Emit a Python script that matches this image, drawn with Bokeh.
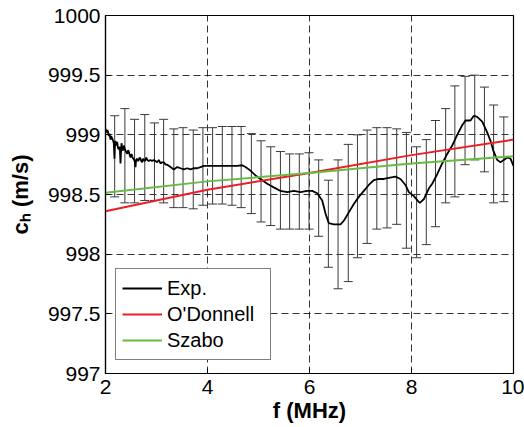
import math
from bokeh.plotting import figure
from bokeh.models import (Range1d, FixedTicker, Legend, LegendItem,
                          Whisker, ColumnDataSource, TeeHead)
from bokeh.embed import file_html
from bokeh.resources import INLINE

# ---------------- data ----------------
x_ticks = [2, 4, 6, 8, 10]
x_tick_labels = ["2", "4", "6", "8", "10"]
y_ticks = [997, 997.5, 998, 998.5, 999, 999.5, 1000]
y_tick_labels = ["997", "997.5", "998", "998.5", "999", "999.5", "1000"]
x_title = "f (MHz)"
y_title = "c\u2095 (m/s)"

exp_f = [2.00, 2.02, 2.04, 2.065, 2.08, 2.098, 2.11, 2.131, 2.15, 2.163,
         2.176, 2.185, 2.196, 2.21, 2.229, 2.245, 2.261, 2.28, 2.294, 2.305,
         2.314, 2.33, 2.347, 2.36, 2.373, 2.40, 2.425, 2.44, 2.457, 2.475,
         2.49, 2.51, 2.524, 2.54, 2.555, 2.575, 2.588, 2.60, 2.622, 2.64,
         2.653, 2.67, 2.686, 2.70, 2.72, 2.735, 2.751, 2.77, 2.784, 2.80,
         2.818, 2.85, 2.882, 2.91, 2.947, 2.98, 3.014, 3.045, 3.078, 3.11,
         3.143, 3.18, 3.21, 3.275, 3.339, 3.406, 3.471, 3.535, 3.602, 3.667,
         3.731, 3.798, 3.863, 3.93, 3.994, 4.059, 4.15, 4.255, 4.35, 4.451,
         4.582, 4.68, 4.745, 4.843, 4.941, 5.039, 5.171, 5.30, 5.431, 5.563,
         5.692, 5.824, 5.955, 6.053, 6.151, 6.249, 6.314, 6.378, 6.476, 6.608,
         6.673, 6.771, 6.869, 6.967, 7.065, 7.163, 7.261, 7.359, 7.457, 7.555,
         7.686, 7.784, 7.882, 7.947, 8.039, 8.137, 8.163, 8.241, 8.339, 8.406,
         8.504, 8.602, 8.70, 8.798, 8.896, 8.994, 9.059, 9.157, 9.222, 9.288,
         9.386, 9.484, 9.549, 9.602, 9.68, 9.745, 9.81, 9.876, 9.941, 10.0]
exp_c = [999.05, 999.02, 999.04, 998.99, 999.01, 998.96, 998.99, 998.97, 998.95, 998.93,
         998.80, 998.92, 998.95, 998.91, 998.94, 998.89, 998.88, 998.90, 998.76, 998.86,
         998.93, 998.88, 998.87, 998.91, 998.89, 998.86, 998.84, 998.87, 998.86, 998.83,
         998.81, 998.84, 998.82, 998.80, 998.80, 998.77, 998.73, 998.79, 998.80, 998.78,
         998.79, 998.81, 998.80, 998.78, 998.77, 998.80, 998.79, 998.78, 998.79, 998.81,
         998.79, 998.78, 998.79, 998.78, 998.79, 998.78, 998.77, 998.79, 998.76, 998.77,
         998.77, 998.75, 998.75, 998.73, 998.71, 998.73, 998.72, 998.71, 998.72, 998.71,
         998.72, 998.72, 998.73, 998.74, 998.74, 998.74, 998.74, 998.74, 998.74, 998.74,
         998.74, 998.745, 998.73, 998.70, 998.66, 998.63, 998.59, 998.56, 998.53, 998.52,
         998.53, 998.52, 998.53, 998.53, 998.51, 998.45, 998.34, 998.26, 998.25, 998.25,
         998.28, 998.35, 998.42, 998.48, 998.53, 998.58, 998.62, 998.63, 998.63, 998.64,
         998.65, 998.63, 998.58, 998.52, 998.49, 998.44, 998.43, 998.46, 998.55, 998.59,
         998.67, 998.76, 998.84, 998.91, 999.00, 999.08, 999.12, 999.12, 999.16, 999.15,
         999.11, 999.02, 998.95, 998.87, 998.79, 998.77, 998.79, 998.81, 998.80, 998.74]

err_f = [2.18, 2.38, 2.57, 2.77, 2.96, 3.14, 3.34, 3.52, 3.72, 3.91,
         4.10, 4.29, 4.48, 4.66, 4.86, 5.05, 5.24, 5.43, 5.61, 5.80,
         5.99, 6.18, 6.37, 6.56, 6.76, 6.94, 7.13, 7.32, 7.52, 7.71,
         7.90, 8.10, 8.29, 8.47, 8.67, 8.85, 9.05, 9.24, 9.43, 9.61, 9.81]
err_hi = [999.16, 999.22, 999.13, 999.17, 999.10, 999.13, 999.05, 999.06, 999.04, 999.06,
          999.06, 999.07, 999.07, 999.07, 999.01, 998.95, 998.90, 998.86, 998.84, 998.84,
          998.85, 998.79, 998.62, 998.79, 998.92, 999.00, 999.04, 999.06, 999.06, 999.05,
          999.02, 998.90, 998.96, 999.12, 999.22, 999.41, 999.49, 999.50, 999.40, 999.25, 999.15]
err_lo = [998.48, 998.43, 998.43, 998.45, 998.45, 998.43, 998.39, 998.39, 998.38, 998.41,
          998.42, 998.42, 998.41, 998.39, 998.34, 998.27, 998.24, 998.21, 998.21, 998.21,
          998.21, 998.15, 997.89, 997.71, 997.77, 997.97, 998.09, 998.21, 998.22, 998.25,
          998.05, 997.97, 998.08, 998.23, 998.43, 998.48, 998.75, 998.79, 998.69, 998.43, 998.44]

model_f = [2, 4, 6, 8, 10]
odonnell_c = [998.36, 998.54, 998.68, 998.83, 998.96]
szabo_c = [998.515, 998.61, 998.68, 998.76, 998.82]

assert len(exp_f) == len(exp_c)
assert len(err_f) == len(err_hi) == len(err_lo)

FONT = "Liberation Sans"

# ---------------- figure ----------------
p = figure(width=524, height=427, x_range=Range1d(2, 10), y_range=Range1d(997, 1000),
           output_backend="svg", toolbar_location=None,
           min_border_left=105, min_border_right=11, min_border_top=15, min_border_bottom=54)
p.background_fill_color = "white"
p.border_fill_color = "white"
p.outline_line_color = "black"
p.outline_line_width = 1.2
p.outline_line_alpha = 1

p.xaxis.ticker = FixedTicker(ticks=x_ticks)
p.yaxis.ticker = FixedTicker(ticks=y_ticks)
p.xaxis.major_label_overrides = {t: l for t, l in zip(x_ticks, x_tick_labels)}
p.yaxis.major_label_overrides = {t: l for t, l in zip(y_ticks, y_tick_labels)}
for ax in (p.xaxis, p.yaxis):
    ax.major_label_text_font = FONT
    ax.major_label_text_font_size = "21px"
    ax.major_label_text_color = "black"
    ax.axis_line_color = "black"
    ax.axis_line_width = 1.2
    ax.major_tick_in = 5
    ax.major_tick_out = 0
    ax.major_tick_line_color = "black"
    ax.minor_tick_line_color = None
    ax.axis_label_text_font = FONT
    ax.axis_label_text_font_style = "bold"
    ax.axis_label_text_font_size = "22px"
    ax.axis_label_text_color = "black"
p.xaxis.major_label_standoff = 6
p.yaxis.major_label_standoff = 5
p.xaxis.axis_label = x_title
p.yaxis.axis_label = y_title
p.xaxis.axis_label_standoff = 1
p.yaxis.axis_label_standoff = 12

p.xgrid.ticker = FixedTicker(ticks=x_ticks)
p.ygrid.ticker = FixedTicker(ticks=y_ticks)
for g in (p.xgrid, p.ygrid):
    g.grid_line_color = "black"
    g.grid_line_alpha = 0.8
    g.grid_line_dash = "7 4"
    g.grid_line_width = 1

# error bars
src = ColumnDataSource(data=dict(f=err_f, hi=err_hi, lo=err_lo))
wh = Whisker(source=src, base="f", upper="hi", lower="lo",
             line_color="#3a3a3a", line_width=1,
             upper_head=TeeHead(size=9, line_color="#3a3a3a", line_width=1),
             lower_head=TeeHead(size=9, line_color="#3a3a3a", line_width=1))
p.add_layout(wh)

r_exp = p.line(exp_f, exp_c, line_color="black", line_width=1.8)
r_od = p.line(model_f, odonnell_c, line_color="#ee1d23", line_width=2)
r_sz = p.line(model_f, szabo_c, line_color="#66bb44", line_width=2)

legend = Legend(items=[LegendItem(label="Exp.", renderers=[r_exp]),
                       LegendItem(label="O'Donnell", renderers=[r_od]),
                       LegendItem(label="Szabo", renderers=[r_sz])],
                location=(10, 13))
legend.label_text_font = FONT
legend.label_text_font_size = "20px"
legend.label_text_color = "black"
legend.glyph_width = 40
legend.glyph_height = 26
legend.label_height = 26
legend.label_width = 97
legend.label_standoff = 5
legend.spacing = 0
legend.padding = 6
legend.margin = 0
legend.border_line_color = "black"
legend.border_line_width = 1.2
legend.background_fill_color = "white"
legend.background_fill_alpha = 1
p.add_layout(legend)

open("out.html", "w").write(file_html(p, INLINE))
